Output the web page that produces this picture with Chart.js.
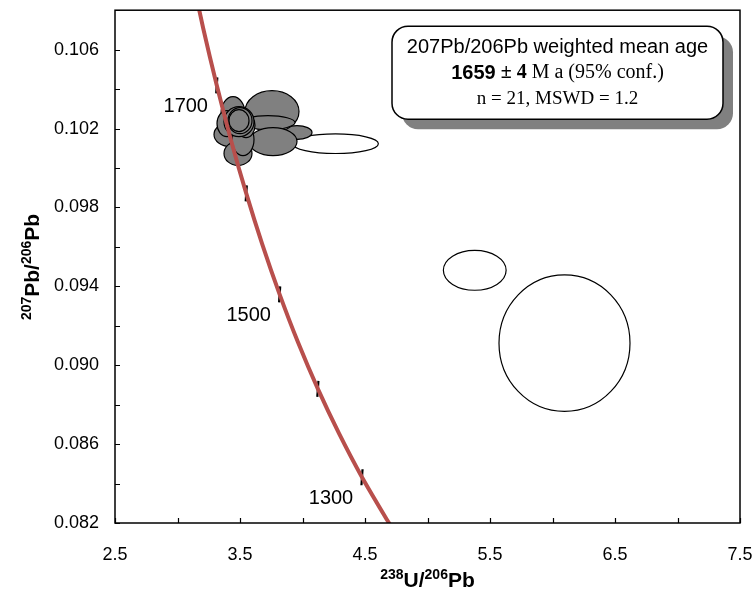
<!DOCTYPE html>
<html>
<head>
<meta charset="utf-8">
<script src="https://cdn.jsdelivr.net/npm/chart.js@4.4.1/dist/chart.umd.min.js"></script>
<style>
  html, body { margin: 0; padding: 0; background: #fff; }
</style>
</head>
<body>
<canvas id="chart" width="756" height="606"></canvas>
<script>
// concordia curve (238U/206Pb, 207Pb/206Pb), 1240..1800 Ma
const concordiaX = [4.715, 4.673, 4.476, 4.293, 4.123, 3.964, 3.817, 3.679, 3.550, 3.428, 3.314, 3.206, 3.105];
const concordiaY = [0.08177, 0.08219, 0.08432, 0.08653, 0.08880, 0.09116, 0.09359, 0.09611, 0.09871, 0.10141, 0.10419, 0.10707, 0.11004];

// age marks on the concordia
const ageLabels = ['1700', '1600', '1500', '1400', '1300'];
const ageX = [3.314, 3.550, 3.817, 4.123, 4.476];
const ageY = [0.10419, 0.09871, 0.09359, 0.08880, 0.08432];
const labelledAges = ['1700', '1500', '1300'];

// error ellipses: centre, half widths (data units), rejected = open ellipse
const ellX = [4.264, 5.378, 6.096, 3.956, 3.756, 3.724, 3.764, 3.444, 3.420, 3.484, 3.524, 3.396, 3.548, 3.492, 3.500, 3.492];
const ellY = [0.10123, 0.09481, 0.09112, 0.10180, 0.10286, 0.10230, 0.10134, 0.10276, 0.10170, 0.10074, 0.10144, 0.10225, 0.10215, 0.10235, 0.10240, 0.10240];
const ellSX = [0.343, 0.251, 0.524, 0.120, 0.216, 0.216, 0.192, 0.096, 0.128, 0.112, 0.088, 0.080, 0.072, 0.120, 0.096, 0.080];
const ellSY = [0.000495, 0.00101, 0.00346, 0.00035, 0.00106, 0.00035, 0.00071, 0.00086, 0.00061, 0.00061, 0.00081, 0.00066, 0.00061, 0.00076, 0.00066, 0.00056];
const ellRejected = [true, true, true, false, false, false, false, false, false, false, false, false, false, false, false, false];

// axis ticks
const xMin = 2.5, xMax = 7.5, xStep = 0.5;
const yMin = 0.082, yMax = 0.108, yStep = 0.002;

const SANS = '"Liberation Sans", Arial, sans-serif';
const SERIF = '"Liberation Serif", "Times New Roman", serif';

Chart.defaults.font.family = SANS;
Chart.defaults.color = '#000';

function drawSup(ctx, parts, big, small, rise) {
  let w = 0;
  parts.forEach(p => {
    ctx.font = 'bold ' + (p.sup ? small : big) + 'px ' + SANS;
    p.w = ctx.measureText(p.t).width;
    w += p.w;
  });
  let cx = -w / 2;
  parts.forEach(p => {
    ctx.font = 'bold ' + (p.sup ? small : big) + 'px ' + SANS;
    ctx.fillText(p.t, cx, p.sup ? -rise : 0);
    cx += p.w;
  });
}

const ellipsePlugin = {
  id: 'ellipses',
  beforeDatasetsDraw(chart) {
    const {ctx, chartArea, scales: {x, y}} = chart;
    ctx.save();
    ctx.beginPath();
    ctx.rect(chartArea.left, chartArea.top, chartArea.width, chartArea.height);
    ctx.clip();
    ellX.forEach((cx, i) => {
      let px = x.getPixelForValue(cx), py = y.getPixelForValue(ellY[i]);
      let rx = Math.abs(x.getPixelForValue(cx + ellSX[i]) - px);
      let ry = Math.abs(y.getPixelForValue(ellY[i] + ellSY[i]) - py);
      ctx.beginPath();
      ctx.ellipse(px, py, rx, ry, 0, 0, Math.PI * 2);
      ctx.fillStyle = ellRejected[i] ? '#ffffff' : '#808080';
      ctx.fill();
      ctx.lineWidth = 1.2;
      ctx.strokeStyle = '#000';
      ctx.stroke();
    });
    ctx.restore();
  },
};

const decorPlugin = {
  id: 'decor',
  afterDatasetsDraw(chart) {
    const {ctx, scales: {x, y}} = chart;
    ctx.save();
    ctx.font = '20px ' + SANS;
    ctx.fillStyle = '#000';
    ctx.textAlign = 'center';
    ctx.textBaseline = 'middle';
    ageLabels.forEach((lbl, i) => {
      if (!labelledAges.includes(lbl)) return;
      ctx.fillText(lbl, x.getPixelForValue(ageX[i]) - 31, y.getPixelForValue(ageY[i]) + 21);
    });
    ctx.restore();
  },
  afterDraw(chart) {
    const {ctx, chartArea: ca, scales: {x, y}} = chart;
    ctx.save();
    // frame + inward ticks
    ctx.strokeStyle = '#000';
    ctx.lineWidth = 1.5;
    ctx.strokeRect(ca.left, ca.top, ca.width, ca.height);
    ctx.lineWidth = 1.2;
    ctx.beginPath();
    x.ticks.forEach(t => {
      let px = Math.round(x.getPixelForValue(t.value)) + 0.5;
      ctx.moveTo(px, ca.bottom);
      ctx.lineTo(px, ca.bottom - 5);
    });
    y.ticks.forEach(t => {
      let py = Math.round(y.getPixelForValue(t.value)) + 0.5;
      ctx.moveTo(ca.left, py);
      ctx.lineTo(ca.left + 5, py);
    });
    ctx.stroke();

    // axis titles
    ctx.fillStyle = '#000';
    ctx.textAlign = 'left';
    ctx.textBaseline = 'alphabetic';
    ctx.save();
    ctx.translate((ca.left + ca.right) / 2, 587);
    drawSup(ctx, [{t: '238', sup: true}, {t: 'U/'}, {t: '206', sup: true}, {t: 'Pb'}], 21, 14, 8);
    ctx.restore();
    ctx.save();
    ctx.translate(39, 267);
    ctx.rotate(-Math.PI / 2);
    drawSup(ctx, [{t: '207', sup: true}, {t: 'Pb/'}, {t: '206', sup: true}, {t: 'Pb'}], 21, 14, 8);
    ctx.restore();

    // weighted mean box
    let bx = ca.right - 348, by = ca.top + 16, bw = 331, bh = 93;
    ctx.fillStyle = '#808080';
    ctx.beginPath();
    ctx.roundRect(bx + 10, by + 10, bw, bh, 16);
    ctx.fill();
    ctx.fillStyle = '#fff';
    ctx.beginPath();
    ctx.roundRect(bx, by, bw, bh, 16);
    ctx.fill();
    ctx.lineWidth = 1.5;
    ctx.stroke();

    let mid = bx + bw / 2;
    ctx.fillStyle = '#000';
    ctx.textBaseline = 'middle';
    ctx.textAlign = 'center';
    ctx.font = '20px ' + SANS;
    ctx.fillText('207Pb/206Pb weighted mean age', mid, by + 21);

    let segs = [
      {t: '1659', f: 'bold 20px ' + SANS},
      {t: ' \u00b1 4', f: 'bold 20px ' + SERIF},
      {t: ' M a (95% conf.)', f: '20px ' + SERIF},
    ];
    let tw = 0;
    segs.forEach(s => { ctx.font = s.f; s.w = ctx.measureText(s.t).width; tw += s.w; });
    let sx = mid - tw / 2;
    ctx.textAlign = 'left';
    segs.forEach(s => { ctx.font = s.f; ctx.fillText(s.t, sx, by + 47); sx += s.w; });

    ctx.textAlign = 'center';
    ctx.font = '19px ' + SERIF;
    ctx.fillText('n = 21, MSWD = 1.2', mid, by + 73);
    ctx.restore();
  },
};

let ctx = document.getElementById('chart').getContext('2d');
let chart = new Chart(ctx, {
  type: 'scatter',
  data: {
    datasets: [
      {
        data: concordiaX.map((v, i) => ({x: v, y: concordiaY[i]})),
        showLine: true,
        borderColor: '#b84f4c',
        borderWidth: 4,
        pointRadius: 0,
        tension: 0.25,
        clip: 0,
      },
      {
        data: ageX.map((v, i) => ({x: v, y: ageY[i]})),
        pointStyle: 'line',
        rotation: 94,
        pointRadius: 8,
        borderColor: '#000',
        borderWidth: 2.2,
        clip: 0,
      },
    ],
  },
  options: {
    responsive: false,
    animation: false,
    devicePixelRatio: 1,
    layout: {padding: {top: 8, right: 16, left: 0, bottom: 0}},
    plugins: {
      legend: {display: false},
      tooltip: {enabled: false},
    },
    scales: {
      x: {
        type: 'linear',
        min: xMin,
        max: xMax,
        grid: {display: false},
        border: {display: false},
        ticks: {
          stepSize: xStep,
          padding: 13,
          maxRotation: 0,
          autoSkip: false,
          font: {size: 18},
          callback: v => Math.round((v - xMin) / xStep) % 2 === 0 ? v.toFixed(1) : '',
        },
        afterFit: s => { s.height = 83; s.paddingLeft = 0; s.paddingRight = 0; },
      },
      y: {
        type: 'linear',
        min: yMin,
        max: yMax,
        grid: {display: false},
        border: {display: false},
        ticks: {
          stepSize: yStep,
          padding: 8,
          autoSkip: false,
          font: {size: 18},
          callback: v => Math.round((v - yMin) / yStep) % 2 === 0 ? v.toFixed(3) : '',
        },
        afterFit: s => { s.width = 115; s.paddingTop = 0; s.paddingBottom = 0; },
      },
    },
  },
  plugins: [ellipsePlugin, decorPlugin],
});
</script>
</body>
</html>
